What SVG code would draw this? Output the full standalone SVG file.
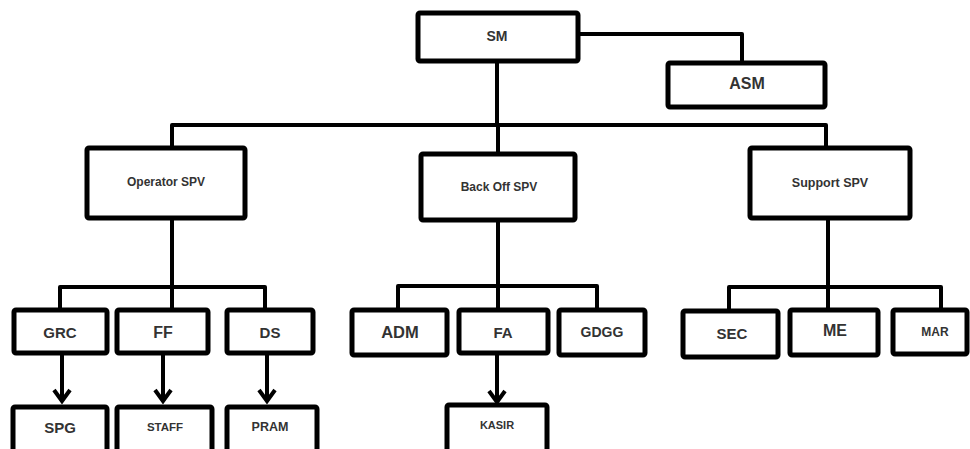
<svg xmlns="http://www.w3.org/2000/svg" width="970" height="449" viewBox="0 0 970 449">
<defs>
<style>
.box{fill:#fff;stroke:#000;stroke-width:5;stroke-linejoin:round}
.ln{fill:none;stroke:#000;stroke-width:4;stroke-linejoin:round}
.ah{fill:none;stroke:#000;stroke-width:4;stroke-linejoin:miter;stroke-linecap:butt}
.t{font-family:"Liberation Sans",Arial,sans-serif;fill:#333;text-anchor:middle;dominant-baseline:central;font-weight:bold}
</style>
</defs>
<rect width="970" height="449" fill="#fff"/>
<g id="connectors">
<polyline class="ln" points="578,34 742,34 742,63"/>
<polyline class="ln" points="497,61 497,125"/>
<polyline class="ln" points="172,148 172,125 826,125 826,148"/>
<polyline class="ln" points="498,125 498,154"/>
<polyline class="ln" points="172,218 172,310"/>
<polyline class="ln" points="60,310 60,287 265,287 265,310"/>
<polyline class="ln" points="498,220 498,310"/>
<polyline class="ln" points="398,310 398,286 597,286 597,310"/>
<polyline class="ln" points="828,218 828,311"/>
<polyline class="ln" points="729,311 729,287 941,287 941,310"/>
<line class="ln" x1="62" y1="353" x2="62" y2="401"/>
<polyline class="ah" points="54,390 62,401 70,390"/>
<line class="ln" x1="163" y1="353" x2="163" y2="401"/>
<polyline class="ah" points="155,390 163,401 171,390"/>
<line class="ln" x1="267" y1="353" x2="267" y2="401"/>
<polyline class="ah" points="259,390 267,401 275,390"/>
<line class="ln" x1="497" y1="353" x2="497" y2="402"/>
<polyline class="ah" points="489,391 497,402 505,391"/>
</g>
<g id="SM"><rect class="box" x="418" y="13" width="160" height="48" rx="2"/><text class="t" x="497" y="36" font-size="14">SM</text></g>
<g id="ASM"><rect class="box" x="668" y="63" width="157" height="44" rx="2"/><text class="t" x="747" y="83" font-size="16">ASM</text></g>
<g id="OperatorSPV"><rect class="box" x="87" y="148" width="158" height="70" rx="2"/><text class="t" x="166" y="182" font-size="12">Operator SPV</text></g>
<g id="BackOffSPV"><rect class="box" x="421" y="154" width="154" height="66" rx="2"/><text class="t" x="499" y="187" font-size="12">Back Off SPV</text></g>
<g id="SupportSPV"><rect class="box" x="750" y="148" width="160" height="70" rx="2"/><text class="t" x="830" y="183" font-size="12.5">Support SPV</text></g>
<g id="GRC"><rect class="box" x="14" y="310" width="93" height="43" rx="2"/><text class="t" x="60" y="332" font-size="15">GRC</text></g>
<g id="FF"><rect class="box" x="117" y="310" width="91" height="43" rx="2"/><text class="t" x="163" y="332" font-size="16">FF</text></g>
<g id="DS"><rect class="box" x="227" y="310" width="86" height="43" rx="2"/><text class="t" x="270" y="332" font-size="15">DS</text></g>
<g id="SPG"><rect class="box" x="13" y="407" width="94" height="48" rx="2"/><text class="t" x="60" y="427" font-size="15">SPG</text></g>
<g id="STAFF"><rect class="box" x="117" y="407" width="95" height="48" rx="2"/><text class="t" x="165" y="427" font-size="11.5">STAFF</text></g>
<g id="PRAM"><rect class="box" x="227" y="407" width="90" height="48" rx="2"/><text class="t" x="270" y="427" font-size="12.5">PRAM</text></g>
<g id="ADM"><rect class="box" x="352" y="310" width="95" height="45" rx="2"/><text class="t" x="400" y="332" font-size="16.5">ADM</text></g>
<g id="FA"><rect class="box" x="459" y="310" width="89" height="43" rx="2"/><text class="t" x="503" y="332" font-size="15">FA</text></g>
<g id="GDGG"><rect class="box" x="559" y="310" width="86" height="45" rx="2"/><text class="t" x="602" y="332" font-size="14">GDGG</text></g>
<g id="KASIR"><rect class="box" x="447" y="405" width="100" height="50" rx="2"/><text class="t" x="497" y="425" font-size="11">KASIR</text></g>
<g id="SEC"><rect class="box" x="683" y="311" width="95" height="46" rx="2"/><text class="t" x="732" y="333" font-size="15">SEC</text></g>
<g id="ME"><rect class="box" x="790" y="310" width="88" height="45" rx="2"/><text class="t" x="835" y="330" font-size="16">ME</text></g>
<g id="MAR"><rect class="box" x="893" y="310" width="74" height="44" rx="2"/><text class="t" x="935" y="332" font-size="12">MAR</text></g>
</svg>
